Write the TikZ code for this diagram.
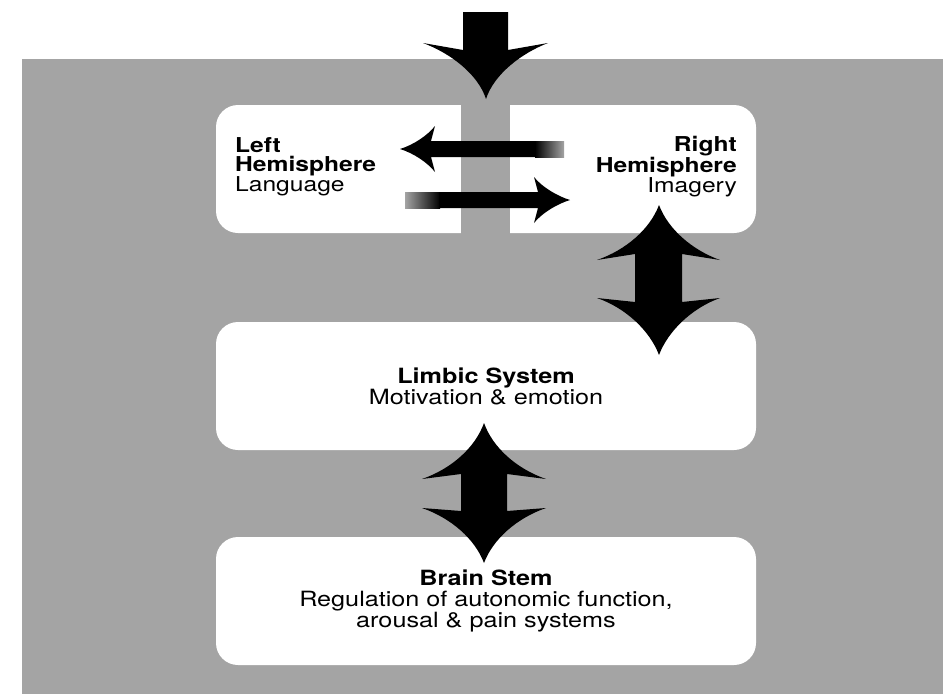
\documentclass[tikz,border=0pt]{standalone}
\usepackage{fontspec}
\newfontfamily\helv[FakeStretch=1.2]{TeX Gyre Heros}
\usetikzlibrary{positioning,calc}
\definecolor{bggray}{RGB}{164,164,164}
\tikzset{
  region/.style={fill=white,rounded corners=22pt,minimum width=540pt,
    minimum height=128pt,inner sep=0pt,align=center,
    font=\helv\fontsize{21}{21}\selectfont},
  hemitext/.style={inner sep=0pt,font=\helv\fontsize{20.5}{18.5}\selectfont},
  fatarrow/.style={fill=black},
}
\begin{document}
\begin{tikzpicture}[x=1pt,y=-1pt]
  \useasboundingbox (0,0) rectangle (943,694);
  \fill[bggray] (22,59) rectangle (943,694);
  % boxes
  \node[region] (hemi) at (486,169) {};
  \node[region] (limbic) at (486,386) {\textbf{Limbic System}\\Motivation \& emotion};
  \node[region] (stem) at (486,601) {\textbf{Brain Stem}\\Regulation of autonomic function,\\arousal \& pain systems};
  \fill[bggray] (461,100) rectangle (510,240);
  \node[hemitext,anchor=west,align=left] (lefttxt) at (235,167)
    {\textbf{Left}\\\textbf{Hemisphere}\\Language};
  \node[hemitext,anchor=east,align=right] (righttxt) at (737,167)
    {\textbf{Right}\\\textbf{Hemisphere}\\Imagery};
  % input arrow
  \fill[fatarrow] (463,12) -- (463,50) -- (423,43)
    .. controls (450,53) and (478,74) .. (486,99)
    .. controls (494,74) and (522,53) .. (548,43)
    -- (508,50) -- (508,12) -- cycle;
  % right to left
  \fill[fatarrow] (400,149) .. controls (413,145) and (427,136) .. (435,126)
    -- (431,141) -- (536,141) -- (536,157) -- (431,157) -- (435,172)
    .. controls (427,162) and (413,153) .. (400,149) -- cycle;
  \shade[left color=black,right color=bggray] (535,141) rectangle (564,157);
  % left to right
  \shade[left color=bggray,right color=black] (405,192) rectangle (440,208);
  \fill[fatarrow] (439,192) -- (538,192) -- (534,177)
    .. controls (542,187) and (557,196) .. (570,200)
    .. controls (557,204) and (542,213) .. (534,223)
    -- (538,208) -- (439,208) -- cycle;
  % hemisphere <-> limbic
  \fill[fatarrow] (659,205) .. controls (668,229) and (692,250) .. (720,260)
    -- (682,254) -- (682,302) -- (720,298)
    .. controls (692,308) and (668,331) .. (659,355)
    .. controls (650,331) and (626,308) .. (597,298)
    -- (635,302) -- (635,254) -- (597,260)
    .. controls (626,250) and (650,229) .. (659,205) -- cycle;
  % limbic <-> brain stem
  \fill[fatarrow] (484,423) .. controls (493,448) and (517,469) .. (546,479)
    -- (507,474) -- (507,511) -- (546,508)
    .. controls (517,518) and (493,539) .. (484,563)
    .. controls (475,539) and (451,518) .. (422,508)
    -- (461,511) -- (461,474) -- (422,479)
    .. controls (451,469) and (475,448) .. (484,423) -- cycle;
\end{tikzpicture}
\end{document}
